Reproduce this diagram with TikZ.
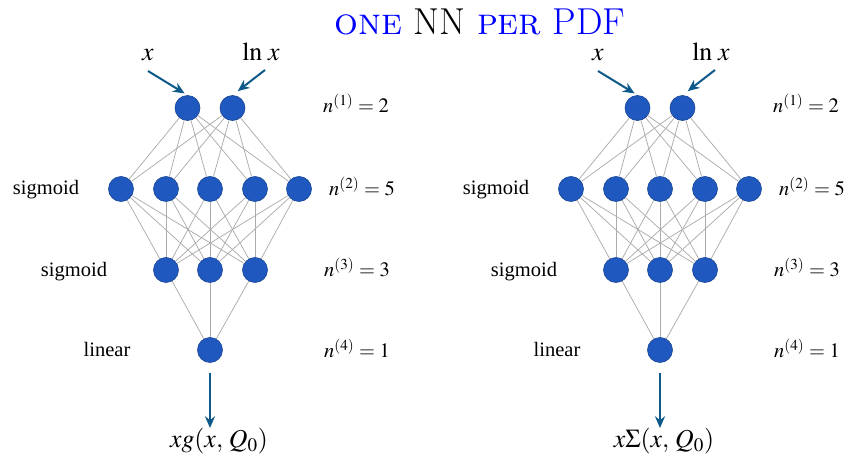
\documentclass[tikz,border=0pt]{standalone}
\usepackage{mathptmx}
\usepackage[no-math]{fontspec}
\renewcommand{\rmdefault}{lmr}
\newfontfamily\labelfont{Liberation Serif}
\usetikzlibrary{arrows.meta, positioning}
\definecolor{NodeBlue}{HTML}{1F58BE}
\definecolor{ArrowBlue}{HTML}{0D5A8A}
\definecolor{TitleBlue}{HTML}{0000FF}

\begin{document}
\begin{tikzpicture}[
        x=0.6pt, y=-0.6pt,
        neuron/.style={circle, fill=NodeBlue, draw=NodeBlue!80!black, line width=0.4pt, minimum size=15pt, inner sep=0pt},
        link/.style={gray!65, line width=0.45pt},
        arr/.style={-{Stealth[length=7pt, width=6pt]}, line width=1.2pt, ArrowBlue},
        lbl/.style={font=\labelfont\fontsize{12.3}{14}\selectfont, anchor=base, inner sep=0pt},
        mlbl/.style={font=\fontsize{12.3}{14}\selectfont, anchor=base, inner sep=0pt},
        iolbl/.style={font=\fontsize{15.5}{18}\selectfont, anchor=base, inner sep=0pt}
      ]
        \useasboundingbox (0,0) rectangle (847,459);

        \node[anchor=base, font=\fontsize{22.5}{27}\selectfont, inner sep=0pt] (title) at (480,35)
          {\textcolor{TitleBlue}{\textsc{one}} NN \textcolor{TitleBlue}{\textsc{per} PDF}};

        \foreach \net/\dx/\ox/\out in {L/0/219/{xg(x,\,Q_0)}, R/450/214/{x\Sigma(x,\,Q_0)}} {
          \begin{scope}[xshift={\dx*0.6pt}]
            % layers
            \foreach \i/\xx in {1/187.5, 2/232.5} \node[neuron] (\net1-\i) at (\xx,108) {};
            \foreach \i/\xx in {1/121, 2/166, 3/210, 4/255, 5/299} \node[neuron] (\net2-\i) at (\xx,189) {};
            \foreach \i/\xx in {1/166, 2/210, 3/255} \node[neuron] (\net3-\i) at (\xx,270) {};
            \node[neuron] (\net4-1) at (210,350) {};

            % weights
            \foreach \a in {1,2} \foreach \b in {1,...,5} \draw[link] (\net1-\a) -- (\net2-\b);
            \foreach \a in {1,...,5} \foreach \b in {1,2,3} \draw[link] (\net2-\a) -- (\net3-\b);
            \foreach \a in {1,2,3} \draw[link] (\net3-\a) -- (\net4-1);

            % activations
            \node[lbl] (\net act2) at (46,195) {sigmoid};
            \node[lbl] (\net act3) at (74,277) {sigmoid};
            \node[lbl] (\net act4) at (107,357) {linear};

            % layer sizes
            \node[mlbl] (\net n1) at (356,113) {$n^{(1)} = 2$};
            \node[mlbl] (\net n2) at (362,196) {$n^{(2)} = 5$};
            \node[mlbl] (\net n3) at (357,277) {$n^{(3)} = 3$};
            \node[mlbl] (\net n4) at (357,358) {$n^{(4)} = 1$};

            % inputs and output
            \node[iolbl] (\net in1) at (148,61) {$x$};
            \node[iolbl] (\net in2) at (261,61) {$\ln\, x$};
            \coordinate (\net s1) at (148,71);
            \coordinate (\net s2) at (265,70);
            \draw[arr, shorten >=2pt] (\net s1) -- (\net1-1.north);
            \draw[arr, shorten >=4pt] (\net s2) -- (\net1-2.north);

            \node[iolbl] (\net out) at (\ox,448) {$\out$};
            \coordinate (\net o) at (210,428);
            \draw[arr, shorten <=6pt] (\net4-1) -- (\net o);
          \end{scope}
        }
      \end{tikzpicture}
\end{document}
